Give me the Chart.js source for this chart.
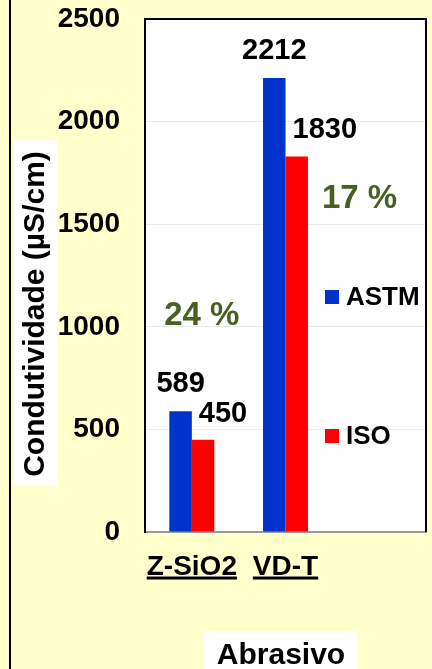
<!DOCTYPE html>
<html>
<head>
<meta charset="utf-8">
<script src="https://cdn.jsdelivr.net/npm/chart.js@4.4.1/dist/chart.umd.min.js"></script>
<style>
  html, body { margin: 0; padding: 0; background: #FFFFCC; }
  #wrap { position: relative; width: 432px; height: 669px; }
</style>
</head>
<body>
<div id="wrap"><canvas id="chart"></canvas></div>
<script>
// data
const categories = ["Z-SiO2", "VD-T", ""];
const astmValues = [589, 2212, null];
const isoValues = [450, 1830, null];
const reductionLabels = ["24 %", "17 %"];
const yTicks = [0, 500, 1000, 1500, 2000, 2500];

const FONT = "Arial, 'Liberation Sans', sans-serif";
const BLUE = "#0033CC";
const RED = "#FF0000";
const GREEN = "#4A6023";

// backgrounds, outer line and the two boxed titles
const backdrop = {
  id: "backdrop",
  beforeDraw(chart) {
    const { ctx, chartArea: a } = chart;
    ctx.save();
    ctx.fillStyle = "#FFFFCC";
    ctx.fillRect(0, 0, chart.width, chart.height);
    ctx.fillStyle = "#000";
    ctx.fillRect(9, 0, 2, chart.height);
    ctx.fillStyle = "#fff";
    ctx.fillRect(a.left, a.top, a.right - a.left, a.bottom - a.top);

    // y title
    ctx.fillRect(14, 140, 43, 345);
    ctx.translate(44, 314);
    ctx.rotate(-Math.PI / 2);
    ctx.fillStyle = "#000";
    ctx.font = "bold 30px " + FONT;
    ctx.textAlign = "center";
    ctx.textBaseline = "alphabetic";
    ctx.fillText("Condutividade (µS/cm)", 0, 0);
    ctx.restore();

    // x title
    ctx.save();
    ctx.fillStyle = "#fff";
    ctx.fillRect(204, 631, 153, 38);
    ctx.fillStyle = "#000";
    ctx.font = "bold 30px " + FONT;
    ctx.textAlign = "center";
    ctx.textBaseline = "alphabetic";
    ctx.fillText("Abrasivo", 281, 664);
    ctx.restore();
  },
  afterDraw(chart) {
    const { ctx, chartArea: a } = chart;
    ctx.save();
    ctx.strokeStyle = "#000";
    ctx.lineWidth = 2;
    ctx.beginPath();
    ctx.moveTo(a.left, a.top);
    ctx.lineTo(a.right, a.top);
    ctx.lineTo(a.right, a.bottom);
    ctx.stroke();

    // underline the category labels
    const xs = chart.scales.x;
    ctx.fillStyle = "#000";
    xs.getLabelItems().forEach(item => {
      if (!item.label) return;
      ctx.font = item.font.string;
      ctx.textBaseline = "middle";
      const m = ctx.measureText(item.label);
      const [x, y] = item.options.translation;
      const mid = y + item.textOffset;
      ctx.fillRect(x - m.width / 2, mid + m.actualBoundingBoxDescent + 2, m.width, 3);
    });
    ctx.restore();
  }
};

// value labels, reduction % and the split legend
const annotations = {
  id: "annotations",
  afterDatasetsDraw(chart) {
    const { ctx, chartArea: a } = chart;
    const ys = chart.scales.y;
    const xs = chart.scales.x;
    ctx.save();
    ctx.fillStyle = "#000";
    ctx.font = "bold 29px " + FONT;
    ctx.textBaseline = "alphabetic";
    chart.getDatasetMeta(0).data.forEach((bar, i) => {
      const v = astmValues[i];
      if (v == null) return;
      ctx.textAlign = "center";
      ctx.fillText(String(v), bar.x, bar.y - 19);
    });
    chart.getDatasetMeta(1).data.forEach((bar, i) => {
      const v = isoValues[i];
      if (v == null) return;
      ctx.textAlign = "left";
      ctx.fillText(String(v), bar.x - bar.width / 2 + 7, bar.y - 18);
    });

    const pctPos = [{ value: 1055, dx: 10 }, { value: 1625, dx: 74 }];
    ctx.fillStyle = GREEN;
    ctx.font = "bold 33px " + FONT;
    ctx.textAlign = "center";
    ctx.textBaseline = "middle";
    reductionLabels.forEach((t, i) => {
      ctx.fillText(t, xs.getPixelForValue(i) + pctPos[i].dx, ys.getPixelForValue(pctPos[i].value));
    });

    const legendItems = [
      { text: chart.data.datasets[0].label, color: BLUE, dy: 278 },
      { text: chart.data.datasets[1].label, color: RED, dy: 417 }
    ];
    ctx.font = "bold 26px " + FONT;
    ctx.textAlign = "left";
    legendItems.forEach(it => {
      const cy = a.top + it.dy;
      ctx.fillStyle = it.color;
      ctx.fillRect(a.left + 180, cy - 7, 14, 14);
      ctx.fillStyle = "#000";
      ctx.fillText(it.text, a.left + 201, cy + 1);
    });
    ctx.restore();
  }
};

new Chart(document.getElementById("chart"), {
  type: "bar",
  data: {
    labels: categories,
    datasets: [
      { label: "ASTM", data: astmValues, backgroundColor: BLUE, categoryPercentage: 0.48, barPercentage: 1 },
      { label: "ISO", data: isoValues, backgroundColor: RED, categoryPercentage: 0.48, barPercentage: 1 }
    ]
  },
  options: {
    responsive: true,
    maintainAspectRatio: false,
    animation: false,
    layout: { padding: { top: 19, right: 6, left: 0, bottom: 0 } },
    plugins: {
      legend: { display: false },
      tooltip: { enabled: false }
    },
    scales: {
      x: {
        grid: { display: false, drawTicks: false },
        border: { color: "#999", width: 2 },
        ticks: {
          color: "#000",
          font: { family: FONT, size: 28, weight: "bold" },
          padding: 18,
          maxRotation: 0,
          minRotation: 0,
          autoSkip: false
        },
        afterFit(scale) {
          scale.height = 137;
          scale.paddingLeft = 0;
          scale.paddingRight = 0;
        }
      },
      y: {
        min: 0,
        max: 2500,
        afterBuildTicks(scale) { scale.ticks = yTicks.map(v => ({ value: v })); },
        grid: { color: "#ebebeb", lineWidth: 1, drawTicks: false },
        border: { color: "#000", width: 2 },
        ticks: {
          color: "#000",
          font: { family: FONT, size: 28, weight: "bold" },
          padding: 25,
          callback: v => String(v)
        },
        afterFit(scale) {
          scale.width = 145;
          scale.paddingTop = 0;
          scale.paddingBottom = 0;
        }
      }
    }
  },
  plugins: [backdrop, annotations]
});
</script>
</body>
</html>
